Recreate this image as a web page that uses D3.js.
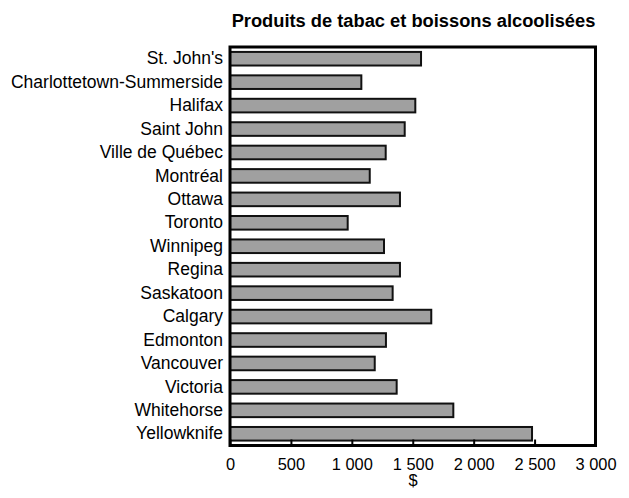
<!DOCTYPE html>
<html>
<head>
<meta charset="utf-8">
<script src="https://cdn.jsdelivr.net/npm/d3@7/dist/d3.min.js"></script>
<style>
  html, body { margin: 0; padding: 0; background: #fff; }
  svg { display: block; font-family: Arial, "Liberation Sans", sans-serif; }
</style>
</head>
<body>
<svg id="chart" width="629" height="498"></svg>
<script>
// Dépenses moyennes par ménage, produits de tabac et boissons alcoolisées ($)
const cities = [
  "St. John's", "Charlottetown-Summerside", "Halifax", "Saint John",
  "Ville de Québec", "Montréal", "Ottawa", "Toronto", "Winnipeg",
  "Regina", "Saskatoon", "Calgary", "Edmonton", "Vancouver",
  "Victoria", "Whitehorse", "Yellowknife"
];
const spending = [
  1568, 1078, 1521, 1434, 1278, 1147, 1395, 966, 1264,
  1395, 1335, 1652, 1280, 1188, 1368, 1833, 2479
];
const tickValues = [0, 500, 1000, 1500, 2000, 2500, 3000];
const titleText = "Produits de tabac et boissons alcoolisées";
const axisTitle = "$";

const FONT = "Arial, 'Liberation Sans', sans-serif";
const svg = d3.select("#chart");
const plot = { left: 230, right: 595.5, top: 47, bottom: 445.5 };

const x = d3.scaleLinear().domain([0, 3000]).range([plot.left, plot.right]);
const y = d3.scaleBand().domain(cities).range([plot.top, plot.bottom])
  .paddingInner(0.42).paddingOuter(0.21);

const fmt = v => d3.format(",")(v).replace(/,/g, "\u00a0");

// Title
svg.append("text")
  .attr("x", 413.5).attr("y", 27)
  .attr("text-anchor", "middle")
  .attr("font-family", FONT)
  .attr("font-size", 18.3).attr("font-weight", "bold")
  .attr("fill", "#000")
  .text(titleText);

// Bars
svg.append("g").selectAll("rect")
  .data(cities)
  .join("rect")
  .attr("x", x(0))
  .attr("y", d => y(d))
  .attr("width", (d, i) => x(spending[i]) - x(0))
  .attr("height", y.bandwidth())
  .attr("fill", "#a0a0a0")
  .attr("stroke", "#111")
  .attr("stroke-width", 2);

// Plot frame
svg.append("rect")
  .attr("x", plot.left).attr("y", plot.top)
  .attr("width", plot.right - plot.left)
  .attr("height", plot.bottom - plot.top)
  .attr("fill", "none")
  .attr("stroke", "#000")
  .attr("stroke-width", 3);

// Bottom axis: inward ticks, labels below
const xAxis = d3.axisBottom(x)
  .tickValues(tickValues)
  .tickSize(-6)
  .tickPadding(12.5)
  .tickFormat(fmt);

const gx = svg.append("g")
  .attr("transform", `translate(0,${plot.bottom})`)
  .call(xAxis)
  .attr("font-family", FONT)
  .attr("font-size", 16.4);
gx.select(".domain").remove();
gx.selectAll(".tick line").attr("stroke", "#000").attr("stroke-width", 2);
gx.selectAll(".tick text").attr("fill", "#000");

// Left axis: category labels
const yAxis = d3.axisLeft(y).tickSize(0).tickPadding(7);
const gy = svg.append("g")
  .attr("transform", `translate(${plot.left},0)`)
  .call(yAxis)
  .attr("font-family", FONT)
  .attr("font-size", 17.5);
gy.select(".domain").remove();
gy.selectAll(".tick text").attr("fill", "#000");

// Axis title
svg.append("text")
  .attr("x", 413).attr("y", 486)
  .attr("text-anchor", "middle")
  .attr("font-family", FONT)
  .attr("font-size", 16.4)
  .attr("fill", "#000")
  .text(axisTitle);
</script>
</body>
</html>
